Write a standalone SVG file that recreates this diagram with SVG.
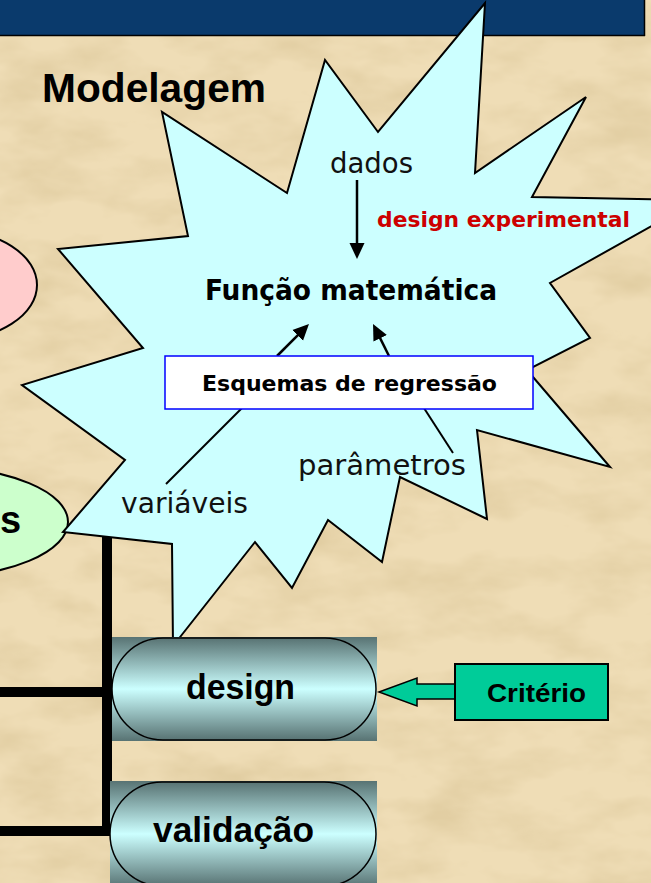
<svg xmlns="http://www.w3.org/2000/svg" width="651" height="883" viewBox="0 0 651 883">
  <defs>
    <filter id="paper" x="0" y="0" width="100%" height="100%" filterUnits="userSpaceOnUse">
      <feTurbulence type="fractalNoise" baseFrequency="0.012 0.025" numOctaves="4" seed="7"/>
      <feColorMatrix type="matrix" values="0 0 0 0 0.62  0 0 0 0 0.48  0 0 0 0 0.24  0.9 0 0 0 -0.36"/>
    </filter>
    <linearGradient id="pill" x1="0" y1="0" x2="0" y2="1">
      <stop offset="0" stop-color="#587373"/>
      <stop offset="0.5" stop-color="#CCFFFF"/>
      <stop offset="1" stop-color="#587373"/>
    </linearGradient>
    <marker id="ah" markerUnits="userSpaceOnUse" markerWidth="16" markerHeight="16" refX="6" refY="8" orient="auto">
      <path d="M0,0.5 L16,8 L0,15.5 z" fill="#000"/>
    </marker>
    <style>
      .star { fill: #CCFFFF; stroke: #000; stroke-width: 2; stroke-linejoin: miter; }
      .sans { font-family: 'DejaVu Sans Condensed', 'DejaVu Sans', 'Liberation Sans', sans-serif; }
      .arial { font-family: 'Liberation Sans', Arial, sans-serif; font-weight: bold; }
      .bus { stroke: #000; stroke-width: 10; fill: none; }
      .ptr { stroke: #000; stroke-width: 2.5; fill: none; marker-end: url(#ah); }
      .thin { stroke: #000; stroke-width: 2; fill: none; }
      .pillbox { fill: url(#pill); stroke: #000; stroke-width: 1.5; }
    </style>
  </defs>

  <!-- background -->
  <rect x="0" y="0" width="651" height="883" fill="#EFDDB6"/>
  <rect x="0" y="0" width="651" height="883" filter="url(#paper)"/>

  <!-- title bar -->
  <g id="titlebar">
    <rect x="0" y="0" width="645" height="35" fill="#0A3A6C"/>
    <line x1="0" y1="35.5" x2="645" y2="35.5" stroke="#000" stroke-width="1.5"/>
    <line x1="644.5" y1="0" x2="644.5" y2="36" stroke="#000" stroke-width="1.5"/>
  </g>

  <g id="title">
    <text x="42" y="102" class="arial" font-size="40" textLength="224" lengthAdjust="spacingAndGlyphs">Modelagem</text>
  </g>

  <!-- connectors (bus lines) -->
  <g id="connectors-bus">
    <path class="bus" d="M0,692 H107 M107,535 V836 M0,831 H112"/>
  </g>

  <!-- side ellipses -->
  <g id="pink-node">
    <ellipse cx="-50" cy="285" rx="87" ry="55" fill="#FFCCCC" stroke="#000" stroke-width="2"/>
  </g>
  <g id="green-node">
    <ellipse cx="-65" cy="522" rx="133" ry="55" fill="#CCFFCC" stroke="#000" stroke-width="2"/>
    <text x="0" y="533" class="arial" font-size="38">s</text>
  </g>

  <!-- star burst -->
  <g id="star">
    <polygon class="star" points="485,3 475,173 586,97 532,197 698,200 550,283 590,338 527,370 610,467 477,430 487,519 400,477 382,562 328,520 292,588 255,542 173,646 172,544 63,532 125,460 22,385 143,348 58,249 188,236 162,112 287,193 325,60 378,132"/>
  </g>

  <g id="dados">
    <text x="330" y="173" class="sans" font-size="28" fill="#111" textLength="83" lengthAdjust="spacingAndGlyphs">dados</text>
  </g>
  <g id="design-experimental">
    <text x="377" y="227" class="sans" font-size="21" font-weight="bold" fill="#CC0000" textLength="253" lengthAdjust="spacingAndGlyphs">design experimental</text>
  </g>
  <g id="funcao">
    <text x="205" y="300" class="sans" font-size="28" font-weight="bold" fill="#000" textLength="292" lengthAdjust="spacingAndGlyphs">Função matemática</text>
  </g>
  <g id="variaveis">
    <text x="121" y="513" class="sans" font-size="28" fill="#111" textLength="127" lengthAdjust="spacingAndGlyphs">variáveis</text>
  </g>
  <g id="parametros">
    <text x="298" y="475" class="sans" font-size="28" fill="#111" textLength="168" lengthAdjust="spacingAndGlyphs">parâmetros</text>
  </g>

  <!-- connectors inside star -->
  <g id="connectors">
    <line class="ptr" x1="357" y1="180" x2="357" y2="249" stroke-width="3"/>
    <line class="ptr" x1="277" y1="356" x2="301.9" y2="331.1"/>
    <line class="ptr" x1="389" y1="356" x2="377.5" y2="332.9"/>
    <line class="thin" x1="166" y1="484" x2="245" y2="405"/>
    <line class="thin" x1="422" y1="405" x2="453" y2="453"/>
  </g>

  <g id="esquemas">
    <rect x="165" y="356" width="368" height="53" fill="#FFFFFF" stroke="#0000FF" stroke-width="1.5"/>
    <text x="202" y="391" class="sans" font-size="22" font-weight="bold" fill="#000" textLength="295" lengthAdjust="spacingAndGlyphs">Esquemas de regressão</text>
  </g>

  <g id="design">
    <rect x="112" y="637" width="265" height="104" fill="url(#pill)"/>
    <rect class="pillbox" x="112" y="638" width="264" height="102" rx="51" ry="51"/>
    <text x="186" y="699" class="arial" font-size="35" textLength="109" lengthAdjust="spacingAndGlyphs">design</text>
  </g>

  <g id="validacao">
    <rect x="110" y="781" width="267" height="106" fill="url(#pill)"/>
    <rect class="pillbox" x="110" y="782" width="266" height="104" rx="52" ry="52"/>
    <text x="153" y="842" class="arial" font-size="35" textLength="161" lengthAdjust="spacingAndGlyphs">validação</text>
  </g>

  <g id="criterio-arrow">
    <polygon points="379,692 417,678 417,684 455,684 455,699 417,699 417,706" fill="#00CC99" stroke="#000" stroke-width="1.5" stroke-linejoin="miter"/>
  </g>

  <g id="criterio">
    <rect x="455" y="664" width="153" height="56" fill="#00CC99" stroke="#000" stroke-width="2"/>
    <text x="487" y="702" class="arial" font-size="26" fill="#000" textLength="99" lengthAdjust="spacingAndGlyphs">Critério</text>
  </g>
</svg>
